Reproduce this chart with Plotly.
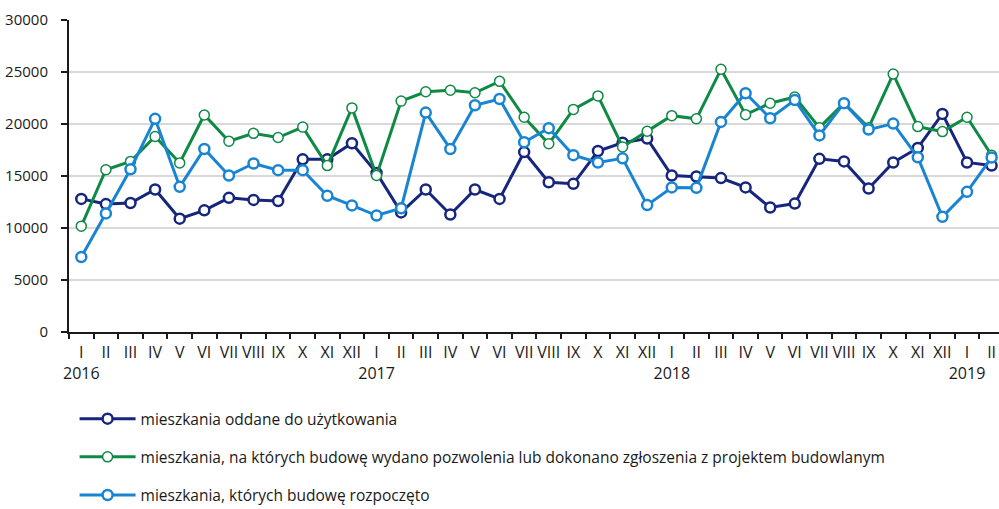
import plotly.graph_objects as go

months = ["I", "II", "III", "IV", "V", "VI", "VII", "VIII", "IX", "X", "XI", "XII"]
years = ["2016", "2017", "2018", "2019"]

# category labels: Jan 2016 .. Feb 2019
categories = [f"{m} {y}" for y in years[:3] for m in months] + [f"{m} {years[3]}" for m in months[:2]]
tick_text = [c.split(" ")[0] + ("<br>" + c.split(" ")[1] if c.split(" ")[0] == "I" else "") for c in categories]

oddane = [12800, 12300, 12400, 13700, 10900, 11700, 12900, 12700, 12600, 16600, 16600, 18150,
          15300, 11500, 13700, 11300, 13700, 12800, 17300, 14400, 14250, 17400, 18200, 18600,
          15050, 14950, 14800, 13900, 11970, 12350, 16650, 16400, 13800, 16300, 17700, 20970,
          16300, 16000]
pozwolenia = [10180, 15600, 16400, 18800, 16260, 20870, 18350, 19100, 18700, 19700, 16000, 21550,
              15050, 22200, 23100, 23250, 23000, 24100, 20650, 18100, 21400, 22700, 17800, 19300,
              20800, 20500, 25260, 20900, 22000, 22600, 19650, 22000, 19650, 24800, 19750, 19270,
              20650, 17000]
rozpoczete = [7200, 11400, 15650, 20500, 13960, 17600, 15050, 16200, 15560, 15560, 13100, 12170,
              11200, 11900, 21100, 17600, 21800, 22400, 18250, 19600, 17000, 16300, 16700, 12200,
              13900, 13860, 20200, 22960, 20550, 22300, 18900, 22000, 19460, 20040, 16800, 11070,
              13480, 16770]
y_ticks = [0, 5000, 10000, 15000, 20000, 25000, 30000]

names = [
    "mieszkania oddane do użytkowania",
    "mieszkania, na których budowę wydano pozwolenia lub dokonano zgłoszenia z projektem budowlanym",
    "mieszkania, których budowę rozpoczęto",
]
colors = ["#16267c", "#0f8a44", "#1985d2"]
marker_lw = [2.5, 1.5, 2.5]

fig = go.Figure()
for i, (vals, name, col) in enumerate(zip([oddane, pozwolenia, rozpoczete], names, colors)):
    fig.add_trace(go.Scatter(
        x=categories, y=vals, name=name, mode="lines+markers",
        line=dict(color=col, width=3),
        marker=dict(symbol="circle", size=10, color="white", line=dict(color=col, width=marker_lw[i])),
        legendgroup=f"g{i}", cliponaxis=False,
    ))

fig.update_layout(
    width=999, height=509,
    margin=dict(l=69, r=0, t=20, b=177),
    plot_bgcolor="white", paper_bgcolor="white",
    font=dict(family="Open Sans", size=14, color="#1a1a1a"),
    showlegend=True,
    legend=dict(
        xref="paper", yref="container",
        x=0.006, y=0.21, xanchor="left", yanchor="top",
        orientation="v", tracegroupgap=15, itemwidth=56,
        font=dict(family="Open Sans", size=15.5, color="#1a1a1a"),
        bgcolor="rgba(0,0,0,0)",
    ),
)
fig.update_xaxes(
    type="category", categoryorder="array", categoryarray=categories,
    tickmode="array", tickvals=categories, ticktext=tick_text,
    tickson="boundaries", ticks="outside", ticklen=5, tickwidth=2, tickcolor="#1a1a1a",
    showline=True, linecolor="#1a1a1a", linewidth=2,
    showgrid=False, range=[-0.5, 37.3], tickangle=0, ticklabelstandoff=5,
    tickfont=dict(family="Open Sans", size=16),
)
fig.update_yaxes(
    range=[0, 30000], tickmode="array", tickvals=y_ticks, ticktext=[str(v) for v in y_ticks],
    ticks="outside", ticklen=6, tickwidth=2, tickcolor="#1a1a1a",
    showline=True, linecolor="#1a1a1a", linewidth=2,
    showgrid=True, gridcolor="#d9d9d9", gridwidth=2,
    zeroline=False, ticklabelstandoff=10,
    tickfont=dict(family="Open Sans", size=15),
)

fig.write_html(
    "out.html",
    config={"displayModeBar": False},
    post_script="document.body.style.margin='0';document.body.style.overflow='hidden';",
)
